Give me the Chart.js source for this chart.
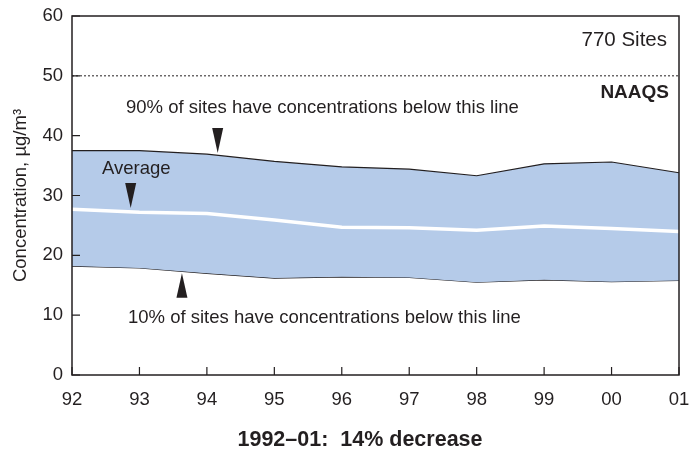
<!DOCTYPE html>
<html lang="en">
<head>
    <meta charset="UTF-8">
    <title>PM10 concentrations 1992-01</title>
    <script src="https://cdn.jsdelivr.net/npm/chart.js"></script>
    <style>
        body { margin: 0; background: #fff; }
        canvas { display: block; }
    </style>
</head>
<body>
    <canvas id="pmChart" width="695" height="455"></canvas>
    <script>
        // Years on the x axis
        const years = ['92', '93', '94', '95', '96', '97', '98', '99', '00', '01'];

        // 90th percentile, average and 10th percentile (ug/m3)
        const pct90 = [37.5, 37.5, 36.9, 35.7, 34.8, 34.4, 33.3, 35.3, 35.6, 33.8];
        const average = [27.7, 27.2, 27.0, 25.9, 24.7, 24.6, 24.2, 24.9, 24.5, 24.0];
        const pct10 = [18.2, 17.9, 17.0, 16.2, 16.4, 16.3, 15.5, 15.9, 15.6, 15.8];

        // NAAQS level
        const naaqs = [50, 50, 50, 50, 50, 50, 50, 50, 50, 50];

        const yTicks = [0, 10, 20, 30, 40, 50, 60];

        const ink = '#231f20';
        const bandFill = 'rgb(181, 203, 233)';
        const fontFam = '"Liberation Sans", Arial, Helvetica, sans-serif';

        // Arrow markers: x in year index, tip and base in concentration units
        const arrows = [
            { x: 2.16, tip: 37.1, base: 41.3 },
            { x: 0.87, tip: 27.9, base: 32.1 },
            { x: 1.63, tip: 17.0, base: 12.9 }
        ];

        // Box, inward ticks, texts and arrows
        const extras = {
            id: 'extras',
            afterDatasetsDraw(chart) {
                const c = chart.ctx;
                const a = chart.chartArea;
                const xs = chart.scales.x;
                const ys = chart.scales.y;
                c.save();

                // frame
                c.strokeStyle = ink;
                c.lineWidth = 1.5;
                c.strokeRect(a.left, a.top, a.right - a.left, a.bottom - a.top);

                // inward ticks
                c.lineWidth = 1.2;
                c.beginPath();
                yTicks.forEach(v => {
                    const y = ys.getPixelForValue(v);
                    c.moveTo(a.left, y);
                    c.lineTo(a.left + 8, y);
                });
                years.forEach((_, i) => {
                    const x = xs.getPixelForValue(i);
                    c.moveTo(x, a.bottom);
                    c.lineTo(x, a.bottom - 8);
                });
                c.stroke();

                // arrows
                c.fillStyle = ink;
                arrows.forEach(ar => {
                    const x = xs.getPixelForValue(ar.x);
                    const yt = ys.getPixelForValue(ar.tip);
                    const yb = ys.getPixelForValue(ar.base);
                    c.beginPath();
                    c.moveTo(x, yt);
                    c.lineTo(x - 5.5, yb);
                    c.lineTo(x + 5.5, yb);
                    c.closePath();
                    c.fill();
                });

                // labels
                c.fillStyle = ink;
                c.textBaseline = 'alphabetic';
                c.font = '20.5px ' + fontFam;
                c.textAlign = 'right';
                c.fillText('770 Sites', 667, 46);
                c.font = 'bold 19px ' + fontFam;
                c.fillText('NAAQS', 669, 98);

                c.font = '18.5px ' + fontFam;
                c.textAlign = 'left';
                c.fillText('90% of sites have concentrations below this line', 126, 113);
                c.fillText('Average', 102, 174);
                c.fillText('10% of sites have concentrations below this line', 128, 323);

                c.font = 'bold 21.5px ' + fontFam;
                c.textAlign = 'center';
                c.fillText('1992\u201301:  14% decrease', 360, 446);
                c.restore();
            }
        };

        const ctx = document.getElementById('pmChart').getContext('2d');
        const pmChart = new Chart(ctx, {
            type: 'line',
            data: {
                labels: years,
                datasets: [
                    {
                        label: 'Average',
                        data: average,
                        borderColor: '#ffffff',
                        borderWidth: 3.5,
                        pointRadius: 0,
                        fill: false,
                        tension: 0,
                        order: 0
                    },
                    {
                        label: '10th percentile',
                        data: pct10,
                        borderColor: ink,
                        borderWidth: 1.2,
                        pointRadius: 0,
                        fill: false,
                        tension: 0,
                        order: 2
                    },
                    {
                        label: '90th percentile',
                        data: pct90,
                        borderColor: ink,
                        borderWidth: 1.2,
                        backgroundColor: bandFill,
                        pointRadius: 0,
                        fill: 1,
                        tension: 0,
                        order: 1
                    },
                    {
                        label: 'NAAQS',
                        data: naaqs,
                        borderColor: ink,
                        borderWidth: 1,
                        borderDash: [2, 2],
                        pointRadius: 0,
                        fill: false,
                        order: 0
                    }
                ]
            },
            options: {
                responsive: false,
                animation: false,
                layout: { padding: { top: 16, right: 16, left: 0, bottom: 0 } },
                plugins: {
                    legend: { display: false },
                    tooltip: { enabled: false }
                },
                scales: {
                    x: {
                        type: 'category',
                        offset: false,
                        grid: { display: false, drawTicks: false },
                        border: { display: false },
                        ticks: {
                            color: ink,
                            padding: 14,
                            maxRotation: 0,
                            autoSkip: false,
                            font: { size: 18.5, family: fontFam }
                        },
                        afterFit(scale) {
                            scale.height = 80;
                            scale.paddingLeft = 0;
                            scale.paddingRight = 0;
                        }
                    },
                    y: {
                        min: 0,
                        max: 60,
                        grid: { display: false, drawTicks: false },
                        border: { display: false },
                        afterBuildTicks(scale) { scale.ticks = yTicks.map(v => ({ value: v })); },
                        ticks: {
                            color: ink,
                            padding: 9,
                            font: { size: 18.5, family: fontFam }
                        },
                        title: {
                            display: true,
                            text: 'Concentration, \u00b5g/m\u00b3',
                            color: ink,
                            padding: { top: 10, bottom: 0 },
                            font: { size: 18.5, family: fontFam }
                        },
                        afterFit(scale) {
                            scale.width = 72;
                            scale.paddingTop = 0;
                            scale.paddingBottom = 0;
                        }
                    }
                }
            },
            plugins: [extras]
        });
    </script>
</body>
</html>
